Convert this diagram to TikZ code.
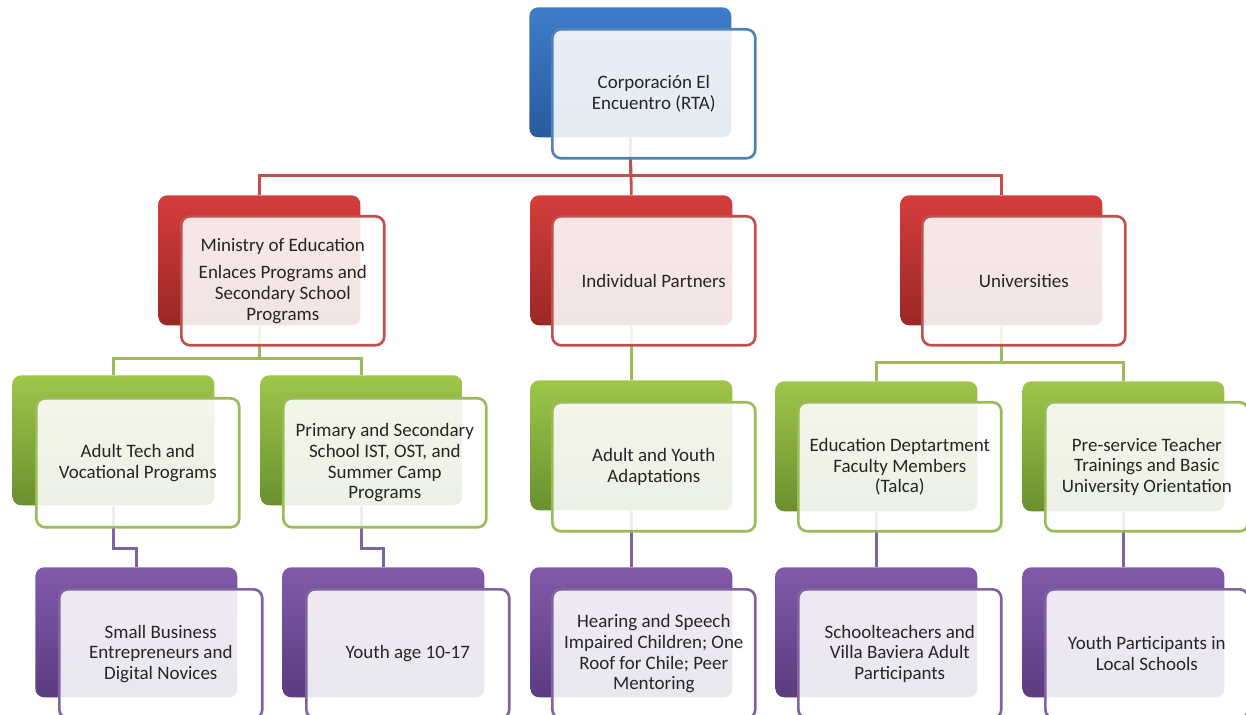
\documentclass[tikz,border=0pt]{standalone}
\usepackage{fontspec}
\setmainfont{Carlito}
\usepackage{tikz}
\usetikzlibrary{backgrounds}

\definecolor{bluetop}{HTML}{3E7DC9}
\definecolor{bluebot}{HTML}{2A5A9C}
\definecolor{blueline}{HTML}{4F81BD}
\definecolor{redtop}{HTML}{D43D3A}
\definecolor{redbot}{HTML}{9A2826}
\definecolor{redline}{HTML}{C0504D}
\definecolor{greentop}{HTML}{9EC64A}
\definecolor{greenbot}{HTML}{6A902F}
\definecolor{greenline}{HTML}{9BBB59}
\definecolor{purpletop}{HTML}{815AA9}
\definecolor{purplebot}{HTML}{5B3C80}
\definecolor{purpleline}{HTML}{8064A2}
\definecolor{textgray}{HTML}{262626}

\begin{document}
\begin{tikzpicture}[x=0.02cm,y=-0.02cm,
	back/.style={rounded corners=5pt, minimum width=4.04cm, minimum height=2.6cm,
	anchor=north west, top color=#1top, bottom color=#1bot},
	front/.style={draw=#1line, line width=1.5pt, rounded corners=5pt, fill=white,
	fill opacity=0.88, text opacity=1, minimum width=4.06cm, minimum height=2.58cm,
	anchor=north west, align=center, text=textgray, font=\fontsize{10.8}{11.8}\selectfont},
	link/.style={draw=#1line, line width=1.6pt}]
\useasboundingbox (0,0) rectangle (1246,715);
\clip (0,0) rectangle (1246,715);
% back boxes
\node [back=blue] (0) at (529,7) {};
\node [back=red] (1) at (158,195) {};
\node [back=red] (2) at (530,195) {};
\node [back=red] (3) at (900,195) {};
\node [back=green] (4) at (12,375) {};
\node [back=green] (5) at (260,375) {};
\node [back=green] (6) at (530,380) {};
\node [back=green] (7) at (775,381) {};
\node [back=green] (8) at (1022,381) {};
\node [back=purple] (9) at (35,567) {};
\node [back=purple] (10) at (282,567) {};
\node [back=purple] (11) at (530,567) {};
\node [back=purple] (12) at (775,567) {};
\node [back=purple] (13) at (1022,567) {};
% connectors
\begin{scope}[on background layer]
\draw [link=red] (0.south) -- ++(0,38) -| (1.north);
\draw [link=red] (0.south) -- ++(0,38) -| (3.north);
\draw [link=red] (0.south) -- (2.north);
\draw [link=green] (1.south) -- ++(0,33) -| (4.north);
\draw [link=green] (1.south) -- ++(0,33) -| (5.north);
\draw [link=green] (2.south) -- (6.north);
\draw [link=green] (3.south) -- ++(0,37) -| (7.north);
\draw [link=green] (3.south) -- ++(0,37) -| (8.north);
\draw [link=purple] (4.south) -- ++(0,43) -| (9.north);
\draw [link=purple] (5.south) -- ++(0,43) -| (10.north);
\draw [link=purple] (6.south) -- (11.north);
\draw [link=purple] (7.south) -- (12.north);
\draw [link=purple] (8.south) -- (13.north);
\end{scope}
% front boxes
\node [front=blue] (0f) at (551,28) {Corporación El\\Encuentro (RTA)};
\node [front=red] (1f) at (180,215) {Ministry of Education\\[4pt]Enlaces Programs and\\Secondary School\\Programs};
\node [front=red] (2f) at (551,215) {Individual Partners};
\node [front=red] (3f) at (921,215) {Universities};
\node [front=green] (4f) at (35,397) {Adult Tech and\\Vocational Programs};
\node [front=green] (5f) at (282,397) {Primary and Secondary\\School IST, OST, and\\Summer Camp\\Programs};
\node [front=green] (6f) at (551,401) {Adult and Youth\\Adaptations};
\node [front=green] (7f) at (797,401) {Education Deptartment\\Faculty Members\\(Talca)};
\node [front=green] (8f) at (1044,401) {Pre-service Teacher\\Trainings and Basic\\University Orientation};
\node [front=purple] (9f) at (58,588) {Small Business\\Entrepreneurs and\\Digital Novices};
\node [front=purple] (10f) at (305,588) {Youth age 10-17};
\node [front=purple] (11f) at (551,588) {Hearing and Speech\\Impaired Children; One\\Roof for Chile; Peer\\Mentoring};
\node [front=purple] (12f) at (797,588) {Schoolteachers and\\Villa Baviera Adult\\Participants};
\node [front=purple] (13f) at (1044,588) {Youth Participants in\\Local Schools};
\end{tikzpicture}
\end{document}
